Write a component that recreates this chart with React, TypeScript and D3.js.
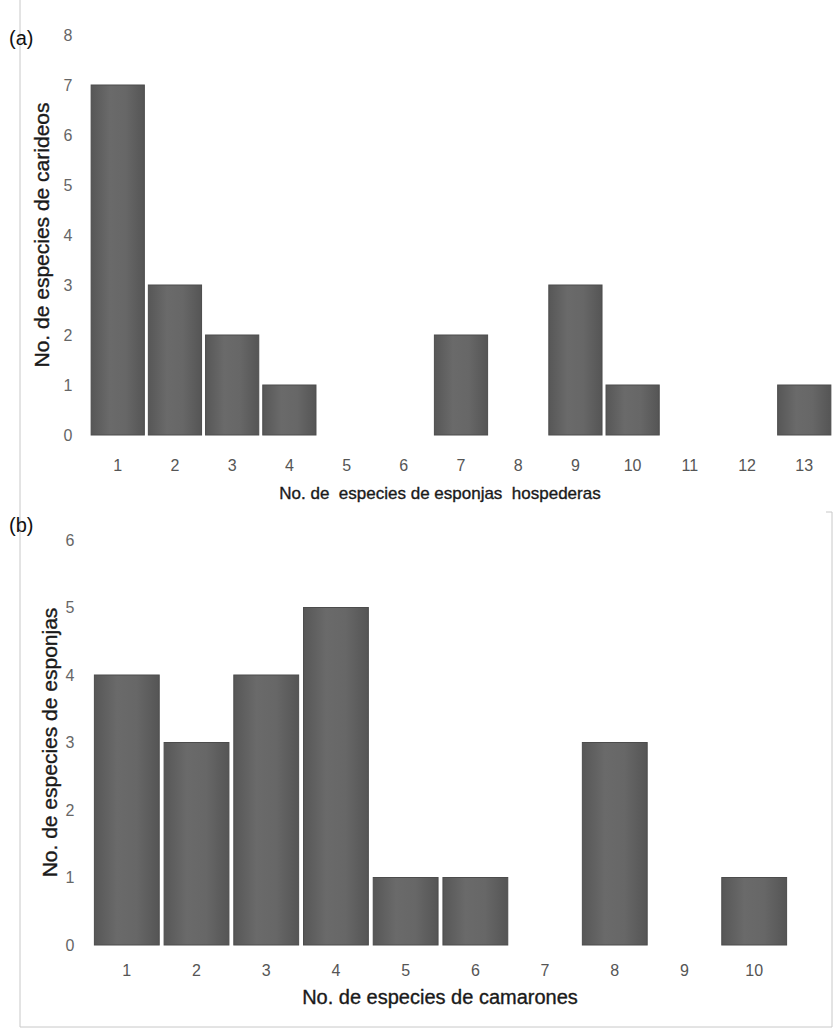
import React, { useRef, useEffect } from "react";
import * as d3 from "d3";

// panel (a): number of host sponge species vs number of caridean species
const hostCats = ["1", "2", "3", "4", "5", "6", "7", "8", "9", "10", "11", "12", "13"];
const carideanCounts = [7, 3, 2, 1, 0, 0, 2, 0, 3, 1, 0, 0, 1];
const ticksA = [0, 1, 2, 3, 4, 5, 6, 7, 8];

// panel (b): number of shrimp species vs number of sponge species
const shrimpCats = ["1", "2", "3", "4", "5", "6", "7", "8", "9", "10"];
const spongeCounts = [4, 3, 4, 5, 1, 1, 0, 3, 0, 1];
const ticksB = [0, 1, 2, 3, 4, 5, 6];

const W = 835;
const H = 1029;

const SANS = "'Liberation Sans', Arial, sans-serif";
const NARROW = "'Liberation Sans Narrow', 'Liberation Sans', Arial, sans-serif";

const App = () => {
    const plot = useRef<SVGSVGElement>(null);

    useEffect(() => {
        const svg = d3.select(plot.current);
        svg.selectAll("*").remove();

        const defs = svg.append("defs");
        const grad = defs.append("linearGradient")
                .attr("id", "barGrad")
                .attr("x1", "0").attr("x2", "1").attr("y1", "0").attr("y2", "0");
        grad.append("stop").attr("offset", "0%").attr("stop-color", "#575757");
        grad.append("stop").attr("offset", "35%").attr("stop-color", "#6a6a6a");
        grad.append("stop").attr("offset", "65%").attr("stop-color", "#676767");
        grad.append("stop").attr("offset", "100%").attr("stop-color", "#555");

        // frame lines
        svg.append("line").attr("x1", 20).attr("x2", 20).attr("y1", 0).attr("y2", 1027)
                .attr("stroke", "#c8c8c8");
        svg.append("path").attr("d", "M20,1027H832V512H826")
                .attr("fill", "none").attr("stroke", "#c8c8c8");

        const drawPanel = (opts: any) => {
            const { cats, values, ticks, xRange, yRange, tickX, tickY, tickFont, tickSize,
                    label, labelY, xTitle, xTitleY, xTitleFont, xTitleSize,
                    yTitle, yTitleX, yTitleSize } = opts;

            const x = d3.scaleBand().domain(cats).range(xRange).paddingInner(0.07).paddingOuter(0.02);
            const y = d3.scaleLinear().domain([0, d3.max(ticks) as number]).range(yRange);

            const g = svg.append("g");

            g.selectAll("rect.bar")
                .data(values.map((v: number, i: number) => ({ c: cats[i], v })).filter((d: any) => d.v > 0))
                .join("rect")
                .attr("class", "bar")
                .attr("x", (d: any) => x(d.c) as number)
                .attr("y", (d: any) => y(d.v))
                .attr("width", x.bandwidth())
                .attr("height", (d: any) => y(0) - y(d.v))
                .attr("fill", "url(#barGrad)")
                .attr("stroke", "#4c4c4c")
                .attr("stroke-width", 1);

            // y ticks
            g.selectAll("text.ytick")
                .data(ticks)
                .join("text")
                .attr("class", "ytick")
                .attr("x", tickX)
                .attr("y", (d: any) => y(d))
                .attr("dy", "0.35em")
                .attr("text-anchor", "middle")
                .attr("font-family", tickFont)
                .attr("font-size", tickSize)
                .attr("fill", "#666")
                .text((d: any) => d);

            // x ticks
            g.selectAll("text.xtick")
                .data(cats)
                .join("text")
                .attr("class", "xtick")
                .attr("x", (d: any) => (x(d) as number) + x.bandwidth() / 2)
                .attr("y", tickY)
                .attr("dy", "0.35em")
                .attr("text-anchor", "middle")
                .attr("font-family", tickFont)
                .attr("font-size", tickSize)
                .attr("fill", "#555")
                .text((d: any) => d);

            g.append("text")
                .attr("x", 440)
                .attr("y", xTitleY)
                .attr("dy", "0.35em")
                .attr("text-anchor", "middle")
                .attr("font-family", xTitleFont)
                .attr("font-size", xTitleSize)
                .attr("fill", "#1a1a1a")
                .attr("stroke", "#1a1a1a")
                .attr("stroke-width", 0.35)
                .style("white-space", "pre")
                .text(xTitle);

            const yMid = (yRange[0] + yRange[1]) / 2;
            g.append("text")
                .attr("transform", `translate(${yTitleX}, ${yMid}) rotate(-90)`)
                .attr("dy", "0.35em")
                .attr("text-anchor", "middle")
                .attr("font-family", SANS)
                .attr("font-size", yTitleSize)
                .attr("fill", "#1a1a1a")
                .attr("stroke", "#1a1a1a")
                .attr("stroke-width", 0.35)
                .text(yTitle);

            g.append("text")
                .attr("x", 9)
                .attr("y", labelY)
                .attr("dy", "0.35em")
                .attr("font-family", SANS)
                .attr("font-size", 20)
                .attr("fill", "#111")
                .text(label);
        };

        drawPanel({
            cats: hostCats, values: carideanCounts, ticks: ticksA,
            xRange: [90, 832], yRange: [435, 35],
            tickX: 68, tickY: 465, tickFont: NARROW, tickSize: 16,
            label: "(a)", labelY: 38,
            xTitle: "No. de  especies de esponjas  hospederas", xTitleY: 493,
            xTitleFont: SANS, xTitleSize: 17,
            yTitle: "No. de especies de carideos", yTitleX: 42, yTitleSize: 21,
        });

        drawPanel({
            cats: shrimpCats, values: spongeCounts, ticks: ticksB,
            xRange: [93, 788], yRange: [945, 540],
            tickX: 70, tickY: 970, tickFont: NARROW, tickSize: 16,
            label: "(b)", labelY: 525,
            xTitle: "No. de especies de camarones", xTitleY: 997,
            xTitleFont: NARROW, xTitleSize: 20,
            yTitle: "No. de especies de esponjas", yTitleX: 50, yTitleSize: 21,
        });
    });

    return (
        <svg ref={plot} width={W} height={H} style={{ position: "absolute", left: 0, top: 0 }} />
    );
}

export default App;
